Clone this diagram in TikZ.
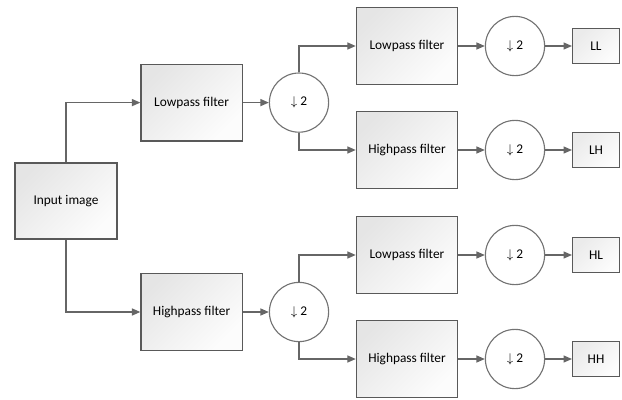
\documentclass[tikz,border=0pt]{standalone}
\usepackage{fontspec}
\setmainfont{Carlito}
\usetikzlibrary{arrows.meta}
\begin{document}
\begin{tikzpicture}[
  filt/.style={draw=black!65,line width=0.9pt,top color=black!10,bottom color=black!1,shading angle=45,minimum width=2.53cm,minimum height=1.92cm,font=\fontsize{9.5}{11}\selectfont},
  down/.style={draw=black!55,line width=0.8pt,fill=white,circle,minimum size=1.48cm,inner sep=0pt,font=\fontsize{9.5}{11}\selectfont},
  band/.style={draw=black!65,line width=0.9pt,top color=black!8,bottom color=black!1,shading angle=45,minimum width=1.17cm,minimum height=0.87cm,font=\fontsize{9.5}{11}\selectfont},
  link/.style={draw=black!60,line width=0.9pt,-{Triangle[length=6pt,width=5pt]}}]
\useasboundingbox (0,0) rectangle (15.55,9.975);
\node[filt,minimum width=2.55cm,minimum height=1.9cm] (in) at (1.65,4.95) {Input image};
\node[filt] (lp) at (4.79,7.41) {Lowpass filter};
\node[filt] (hp) at (4.79,2.175) {Highpass filter};
\node[down] (dl) at (7.475,7.41) {$\downarrow$ 2};
\node[down] (dh) at (7.475,2.175) {$\downarrow$ 2};
\node[filt] (lpl) at (10.175,8.825) {Lowpass filter};
\node[filt] (lph) at (10.175,6.225) {Highpass filter};
\node[filt] (hpl) at (10.175,3.6) {Lowpass filter};
\node[filt] (hph) at (10.175,1.0) {Highpass filter};
\node[down] (d1) at (12.875,8.825) {$\downarrow$ 2};
\node[down] (d2) at (12.875,6.225) {$\downarrow$ 2};
\node[down] (d3) at (12.875,3.6) {$\downarrow$ 2};
\node[down] (d4) at (12.875,1.0) {$\downarrow$ 2};
\node[band] (ll) at (14.9,8.825) {LL};
\node[band] (lh) at (14.9,6.225) {LH};
\node[band] (hl) at (14.9,3.6) {HL};
\node[band] (hh) at (14.9,1.0) {HH};
% first level
\draw[link] (in.north) |- (lp.west);
\draw[link] (in.south) |- (hp.west);
\draw[link] (lp) -- (dl);
\draw[link] (hp) -- (dh);
% second level
\draw[link] (dl.north) |- (lpl.west);
\draw[link] (dl.south) |- (lph.west);
\draw[link] (dh.north) |- (hpl.west);
\draw[link] (dh.south) |- (hph.west);
\draw[link] (lpl) -- (d1);
\draw[link] (lph) -- (d2);
\draw[link] (hpl) -- (d3);
\draw[link] (hph) -- (d4);
\draw[link] (d1) -- (ll);
\draw[link] (d2) -- (lh);
\draw[link] (d3) -- (hl);
\draw[link] (d4) -- (hh);
\end{tikzpicture}
\end{document}
